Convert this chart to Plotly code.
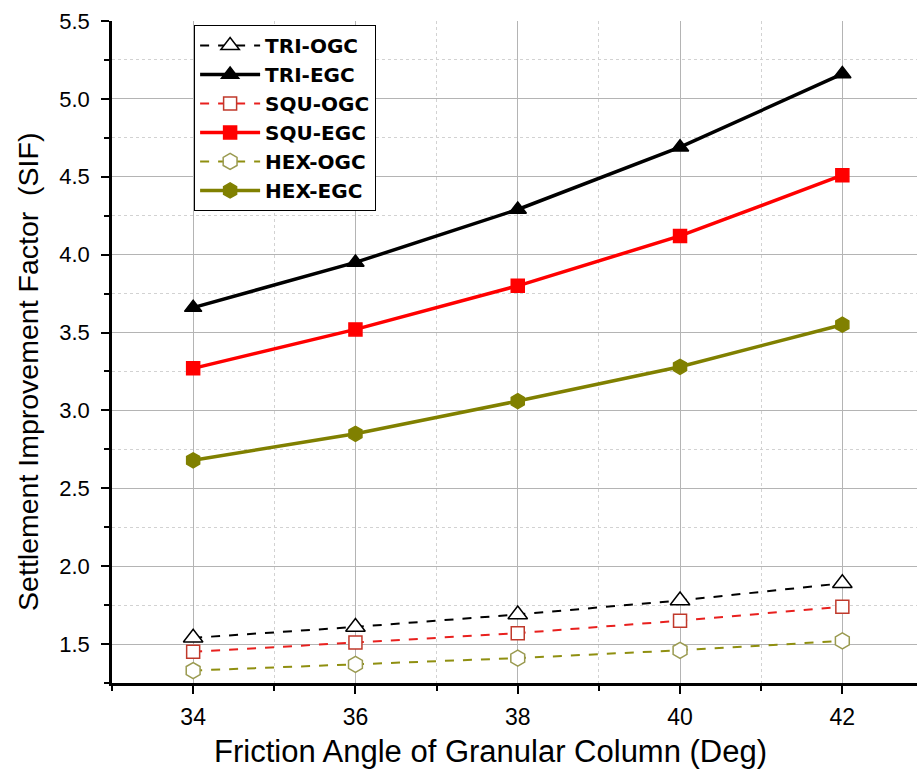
import plotly.graph_objects as go

# Friction angle of the granular column (degrees)
friction_angle = [34, 36, 38, 40, 42]

# Settlement improvement factor for each column arrangement
tri_ogc = [1.54, 1.61, 1.69, 1.78, 1.89]
tri_egc = [3.66, 3.95, 4.29, 4.69, 5.16]
squ_ogc = [1.45, 1.51, 1.57, 1.65, 1.74]
squ_egc = [3.27, 3.52, 3.80, 4.12, 4.51]
hex_ogc = [1.33, 1.37, 1.41, 1.46, 1.52]
hex_egc = [2.68, 2.85, 3.06, 3.28, 3.55]

FONT = "Arial, 'Liberation Sans', sans-serif"
LEGEND_FONT = "'DejaVu Sans', Arial, sans-serif"

fig = go.Figure()


def add_series(name, values, line_color, dash, width, symbol, fill, edge, size):
    fig.add_trace(go.Scatter(
        x=friction_angle, y=values, name=name, mode="lines+markers",
        line=dict(color=line_color, dash=dash, width=width),
        marker=dict(symbol=symbol, color=fill, size=size,
                    line=dict(color=edge, width=1.5)),
    ))


add_series("TRI-OGC", tri_ogc, "black", "dash", 2, "triangle-up", "white", "black", 17)
add_series("TRI-EGC", tri_egc, "black", "solid", 3.5, "triangle-up", "black", "black", 15)
add_series("SQU-OGC", squ_ogc, "#e8201e", "dash", 2, "square", "white", "#c0392b", 13)
add_series("SQU-EGC", squ_egc, "#ff0000", "solid", 3.5, "square", "#ff0000", "#ff0000", 13)
add_series("HEX-OGC", hex_ogc, "#8f8f10", "dash", 2, "hexagon", "white", "#9a9a50", 16)
add_series("HEX-EGC", hex_egc, "#808000", "solid", 3.5, "hexagon", "#808000", "#808000", 15)

# Axis titles placed as paper-anchored annotations
fig.add_annotation(
    text="Friction Angle of Granular Column (Deg)",
    xref="paper", yref="paper", x=0.4696, y=-0.104,
    xanchor="center", yanchor="middle", showarrow=False,
    font=dict(family=FONT, size=31, color="black"),
)
fig.add_annotation(
    text="Settlement Improvement Factor\u00a0 (SIF)",
    xref="paper", yref="paper", x=-0.1043, y=0.47,
    xanchor="center", yanchor="middle", textangle=-90, showarrow=False,
    font=dict(family=FONT, size=28.5, color="black"),
)

fig.update_layout(
    width=917, height=778,
    margin=dict(l=112, r=0, t=21, b=95),
    paper_bgcolor="white", plot_bgcolor="white",
    font=dict(family=FONT, color="black"),
    legend=dict(
        x=0.102, y=0.994, xanchor="left", yanchor="top",
        bgcolor="white", bordercolor="black", borderwidth=1,
        font=dict(family=LEGEND_FONT, size=20, weight="bold", color="black"),
        itemwidth=60, tracegroupgap=0,
    ),
    xaxis=dict(
        range=[33, 42.92], tick0=34, dtick=2,
        showline=True, linecolor="black", linewidth=2.5,
        ticks="outside", ticklen=8, tickwidth=2, tickcolor="black",
        tickfont=dict(size=23), ticklabelstandoff=4,
        showgrid=True, gridcolor="#b4b4b4", gridwidth=1,
        zeroline=False,
        minor=dict(tick0=33, dtick=1, ticks="outside", ticklen=5,
                   tickwidth=1.5, tickcolor="black", showgrid=True,
                   gridcolor="#d2d2d2", griddash="dot", gridwidth=1),
    ),
    yaxis=dict(
        range=[1.25, 5.5], tick0=1.5, dtick=0.5, tickformat=".1f",
        showline=True, linecolor="black", linewidth=2.5,
        ticks="outside", ticklen=8, tickwidth=2, tickcolor="black",
        tickfont=dict(size=22), ticklabelstandoff=7,
        showgrid=True, gridcolor="#b4b4b4", gridwidth=1,
        zeroline=False,
        minor=dict(tick0=1.25, dtick=0.25, ticks="outside", ticklen=5,
                   tickwidth=1.5, tickcolor="black", showgrid=True,
                   gridcolor="#d2d2d2", griddash="dot", gridwidth=1),
    ),
)

fig.write_html("out.html")
